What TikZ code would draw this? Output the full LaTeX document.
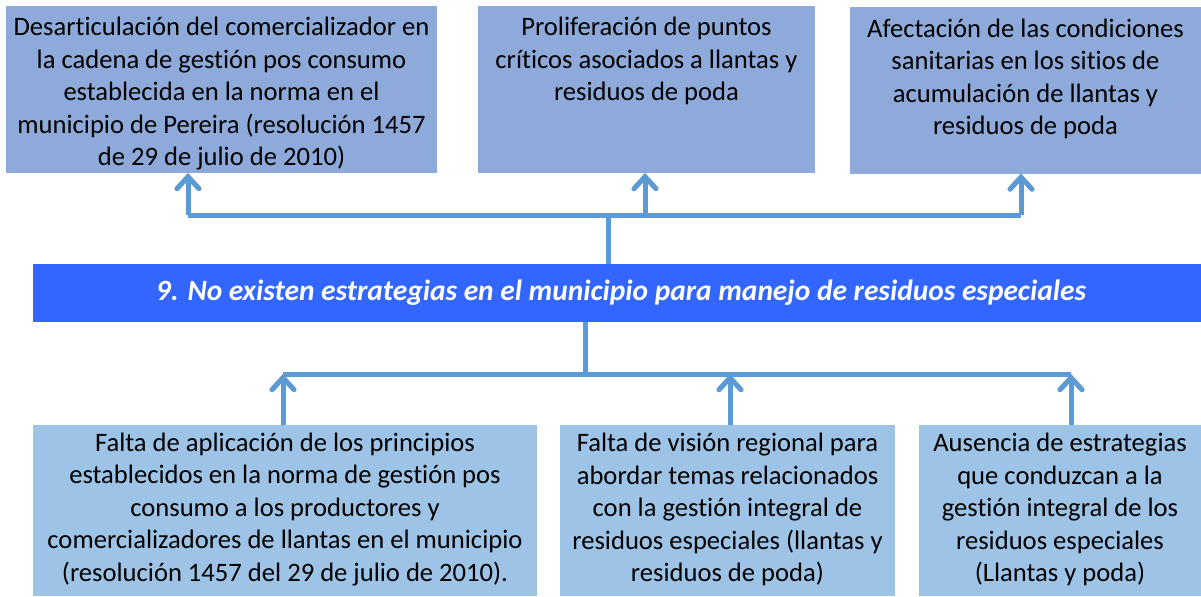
\documentclass[tikz,border=0pt]{standalone}
\usepackage{fontspec}
\setmainfont{Carlito}[Ligatures=NoCommon]
\usetikzlibrary{arrows.meta}
\definecolor{topbox}{HTML}{8EAADB}
\definecolor{botbox}{HTML}{9DC3E6}
\definecolor{barblue}{HTML}{3366FF}
\definecolor{linkblue}{HTML}{5B9BD5}
\definecolor{shadowgray}{HTML}{CBCBCB}
\tikzset{
  box/.style={draw=none, inner sep=0pt, outer sep=0pt},
  tbox/.style={box, fill=topbox},
  bbox/.style={box, fill=botbox},
  txt/.style={inner sep=0pt, align=center, font=\fontsize{13.3pt}{16.25pt}\selectfont},
  link/.style={draw=linkblue, line width=2.5pt},
  shadow/.style={draw=shadowgray, line width=2.5pt},
  uparrow/.style={-{Straight Barb[length=6pt, width=11pt, line width=2.5pt, line cap=round]}},
}
\begin{document}
\begin{tikzpicture}[x=0.5pt, y=-0.5pt]
\useasboundingbox (0,0) rectangle (1201,596);
% boxes
\node[tbox, minimum width=215.5pt, minimum height=83.5pt] (t1) at (221.5,89.5) {};
\node[tbox, minimum width=168.5pt, minimum height=83.5pt] (t2) at (646.5,89.5) {};
\node[tbox, minimum width=175.5pt, minimum height=83.5pt] (t3) at (1025.5,90) {};
\node[box, fill=barblue, minimum width=584pt, minimum height=29pt] (bar) at (617,293) {};
\node[bbox, minimum width=252pt, minimum height=85.5pt] (b1) at (285,510.5) {};
\node[bbox, minimum width=167.5pt, minimum height=85.5pt] (b2) at (727.5,510.5) {};
\node[bbox, minimum width=141pt, minimum height=85.5pt] (b3) at (1060,510.5) {};
% texts
\node[txt, anchor=north] (t1x) at ([yshift=-5.5pt]t1.north) {Desarticulación del comercializador en\\la cadena de gestión pos consumo\\establecida en la norma en el\\municipio de Pereira (resolución 1457\\de 29 de julio de 2010)};
\node[txt, anchor=north] (t2x) at ([yshift=-5.5pt]t2.north) {Proliferación de puntos\\críticos asociados a llantas y\\residuos de poda};
\node[txt, anchor=north] (t3x) at ([yshift=-6pt]t3.north) {Afectación de las condiciones\\sanitarias en los sitios de\\acumulación de llantas y\\residuos de poda};
\node[inner sep=0pt, text=white, font=\fontsize{14.7pt}{17pt}\selectfont\bfseries\itshape] (barx) at ([xshift=2pt]bar.center) {9. No existen estrategias en el municipio para manejo de residuos especiales};
\node[txt] (b1x) at ([yshift=0.5pt]b1.center) {Falta de aplicación de los principios\\establecidos en la norma de gestión pos\\consumo a los productores y\\comercializadores de llantas en el municipio\\(resolución 1457 del 29 de julio de 2010).};
\node[txt] (b2x) at ([yshift=0.5pt]b2.center) {Falta de visión regional para\\abordar temas relacionados\\con la gestión integral de\\residuos especiales (llantas y\\residuos de poda)};
\node[txt] (b3x) at ([yshift=0.5pt]b3.center) {Ausencia de estrategias\\que conduzcan a la\\gestión integral de los\\residuos especiales\\(Llantas y poda)};
% junction coordinates
\coordinate (ju) at (608,215);
\coordinate (jl) at (585,374);
\coordinate (u1) at (188,215);
\coordinate (u2) at (645,215);
\coordinate (u3) at (1021,215);
\coordinate (l1) at (283,374);
\coordinate (l2) at (730,374);
\coordinate (l3) at (1071,374);
% shadows
\begin{scope}[xshift=1.5pt, yshift=-2pt]
\draw[shadow] (u1) -- (u3);
\draw[shadow, uparrow] (u1) -- (u1 |- t1.south);
\draw[shadow, uparrow] (u2) -- (u2 |- t2.south);
\draw[shadow, uparrow] (u3) -- (u3 |- t3.south);
\draw[shadow] (l1) -- (l3);
\draw[shadow, uparrow] (l1 |- b1.north) -- (l1);
\draw[shadow, uparrow] (l2 |- b2.north) -- (l2);
\draw[shadow, uparrow] (l3 |- b3.north) -- (l3);
\end{scope}
% connectors
\draw[link] (ju |- bar.north) -- (ju);
\draw[link] (u1) -- (u3);
\draw[link, uparrow] (u1) -- (u1 |- t1.south);
\draw[link, uparrow] (u2) -- (u2 |- t2.south);
\draw[link, uparrow] (u3) -- (u3 |- t3.south);
\draw[link] (jl |- bar.south) -- (jl);
\draw[link] (l1) -- (l3);
\draw[link, uparrow] (l1 |- b1.north) -- (l1);
\draw[link, uparrow] (l2 |- b2.north) -- (l2);
\draw[link, uparrow] (l3 |- b3.north) -- (l3);
\end{tikzpicture}
\end{document}
